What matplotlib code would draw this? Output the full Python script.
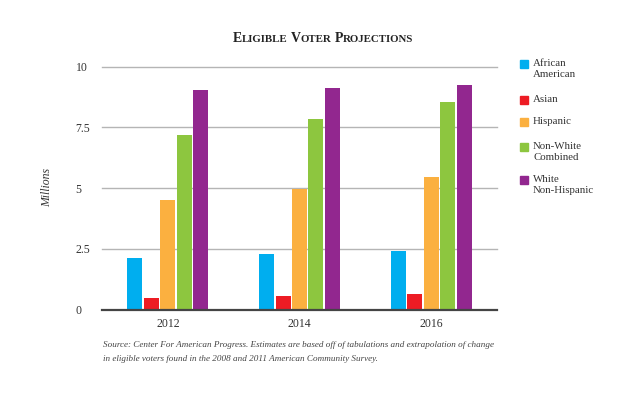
import matplotlib.pyplot as plt
from matplotlib.patches import Rectangle
import numpy as np

years = ["2012", "2014", "2016"]
groups = ["African\nAmerican", "Asian", "Hispanic", "Non-White\nCombined", "White\nNon-Hispanic"]
african_american = [2.12, 2.29, 2.43]
asian = [0.49, 0.58, 0.66]
hispanic = [4.51, 4.97, 5.45]
non_white = [7.19, 7.86, 8.56]
white_non_hispanic = [9.04, 9.14, 9.23]
yticks = [0, 2.5, 5, 7.5, 10]
ytick_labels = ["0", "2.5", "5", "7.5", "10"]

colors = ["#00AEEF", "#ED1C24", "#FBB040", "#8DC63F", "#92278F"]
serif = "Liberation Serif"

fig = plt.figure(figsize=(6.4, 3.96), dpi=100)
W, H = 640, 396

def fx(px):
    return px / W

def fy(py):
    return 1 - py / H

ax = fig.add_axes([fx(102), fy(309.7), fx(497) - fx(102), fy(66.7) - fy(309.7)])

x = np.arange(len(years))
series = [african_american, asian, hispanic, non_white, white_non_hispanic]
width = 0.114
step = 0.125
for i, (vals, c) in enumerate(zip(series, colors)):
    ax.bar(x + (i - 2) * step, vals, width=width, color=c, zorder=3)

ax.set_xlim(-0.5, 2.5)
ax.set_ylim(0, 10)
ax.set_yticks(yticks)
ax.set_yticklabels(ytick_labels)
ax.set_xticks(x)
ax.set_xticklabels(years)
for v in yticks[1:]:
    ax.axhline(v, color="#b5b5b5", linewidth=1.0, zorder=1, clip_on=False)
ax.axhline(0, color="#444444", linewidth=1.6, zorder=4, clip_on=False)
for s in ax.spines.values():
    s.set_visible(False)
ax.tick_params(axis="both", length=0, labelsize=8.5, labelcolor="#333333")
ax.tick_params(axis="y", pad=19)
ax.tick_params(axis="x", pad=6)
for lab in ax.get_xticklabels() + ax.get_yticklabels():
    lab.set_fontfamily(serif)
for lab in ax.get_yticklabels():
    lab.set_horizontalalignment("left")

fig.text(fx(47), fy(187), "Millions", rotation=90, fontsize=8.5, style="italic",
         family=serif, color="#333333", ha="center", va="center")

# title in small caps, built from pieces
renderer = fig.canvas.get_renderer()
title = "Eligible Voter Projections"
pieces = []
for word in title.split(" "):
    pieces.append((word[0], 10))
    pieces.append((word[1:].upper(), 7.8))
    pieces.append((" ", 7.8))
pieces = pieces[:-1]
texts = []
for s, size in pieces:
    t = fig.text(0, fy(42), s, fontsize=size, family=serif, weight="bold",
                 color="#222222", ha="left", va="baseline")
    texts.append(t)
total = 0
widths = []
for t in texts:
    w = t.get_window_extent(renderer).width if t.get_text().strip() else 3.0
    widths.append(w)
    total += w
start = 323 - total / 2
for t, w in zip(texts, widths):
    t.set_x(fx(start))
    start += w

# legend
leg_tops = [60, 95.7, 118.3, 143.3, 175.7]
for lab, c, top in zip(groups, colors, leg_tops):
    fig.patches.append(Rectangle((fx(520), fy(top + 8)), fx(8), fy(top) - fy(top + 8),
                                 transform=fig.transFigure, color=c))
    fig.text(fx(533), fy(top - 1), lab, fontsize=7.8, family=serif, color="#333333",
             ha="left", va="top", linespacing=1.3)

fig.text(fx(103), fy(345), "Source: Center For American Progress. Estimates are based off of tabulations and extrapolation of change",
         fontsize=6.6, style="italic", family=serif, color="#444444", ha="left", va="center")
fig.text(fx(103), fy(359), "in eligible voters found in the 2008 and 2011 American Community Survey.",
         fontsize=6.6, style="italic", family=serif, color="#444444", ha="left", va="center")

fig.savefig("out.png", dpi=100)
